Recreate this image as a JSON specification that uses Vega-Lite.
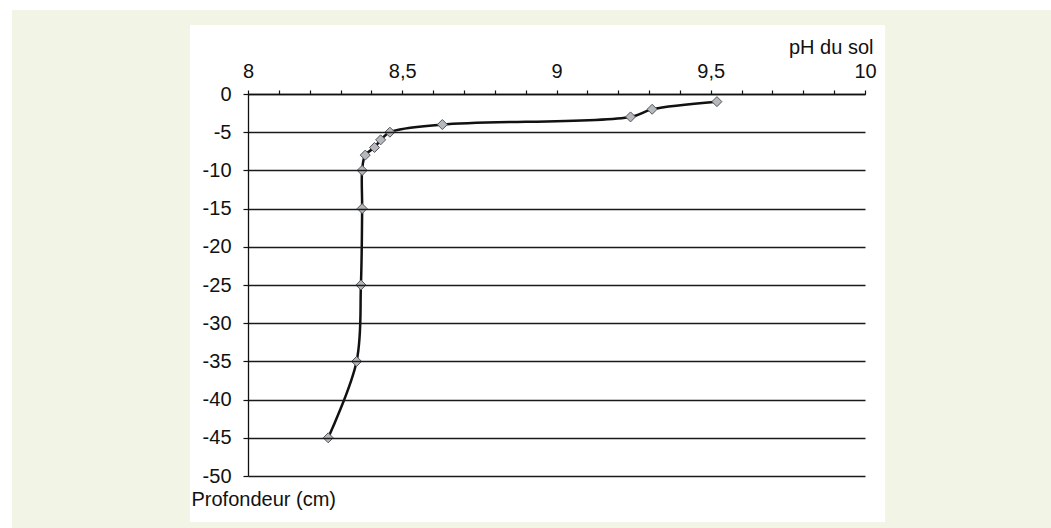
{
  "$schema": "https://vega.github.io/schema/vega-lite/v6.json",
  "autosize": "none",
  "width": 617,
  "height": 382,
  "padding": {"left": 248, "top": 94, "right": 186, "bottom": 52},
  "background": "white",
  "config": {
    "view": {"stroke": null},
    "font": "Liberation Sans",
    "axis": {"labelFont": "Liberation Sans", "titleFont": "Liberation Sans", "labelColor": "#111", "titleColor": "#111"}
  },
  "data": {
    "values": [
      {"ph": 9.52, "depth": -1},
      {"ph": 9.31, "depth": -2},
      {"ph": 9.24, "depth": -3},
      {"ph": 8.63, "depth": -4},
      {"ph": 8.46, "depth": -5},
      {"ph": 8.43, "depth": -6},
      {"ph": 8.41, "depth": -7},
      {"ph": 8.38, "depth": -8},
      {"ph": 8.37, "depth": -10},
      {"ph": 8.37, "depth": -15},
      {"ph": 8.366, "depth": -25},
      {"ph": 8.352, "depth": -35},
      {"ph": 8.26, "depth": -45}
    ]
  },
  "layer": [
    {
      "mark": {"type": "rect", "color": "#f2f5e6", "clip": false},
      "encoding": {
        "x": {
          "datum": 7.235, "type": "quantitative",
          "scale": {"domain": [8, 10], "nice": false, "zero": false},
          "axis": {
            "zindex": 1,
            "orient": "top",
            "title": "pH du sol",
            "values": [8, 8.1, 8.2, 8.3, 8.4, 8.5, 8.6, 8.7, 8.8, 8.9, 9, 9.1, 9.2, 9.3, 9.4, 9.5, 9.6, 9.7, 9.8, 9.9, 10],
            "tickCount": 40,
            "labelExpr": "abs(datum.value*2 - round(datum.value*2)) < 0.001 ? replace(datum.value + '', '.', ',') : ''",
            "labelFontSize": 20,
            "labelPadding": 9,
            "labelOverlap": false,
            "labelFlush": false,
            "tickSize": 4,
            "tickColor": "#111",
            "tickWidth": 1.2,
            "domainColor": "#111",
            "domainWidth": 1.3,
            "grid": false,
            "titleFontSize": 20,
            "titleFontWeight": "normal",
            "titleAnchor": "end",
            "titleAlign": "right",
            "titleBaseline": "alphabetic",
            "titleX": 625,
            "titleY": -41
          }
        },
        "x2": {"datum": 10.61},
        "y": {
          "datum": 10.99, "type": "quantitative",
          "scale": {"domain": [-50, 0], "nice": false, "zero": false},
          "axis": {
            "zindex": 1,
            "title": "Profondeur (cm)",
            "values": [0, -5, -10, -15, -20, -25, -30, -35, -40, -45, -50],
            "tickCount": 30,
            "labelExpr": "datum.value + ''",
            "labelFontSize": 20,
            "labelPadding": 12,
            "labelOverlap": false,
            "labelFlush": false,
            "tickSize": 5,
            "tickColor": "#111",
            "tickWidth": 1.2,
            "domainColor": "#111",
            "domainWidth": 1.3,
            "grid": true,
            "gridColor": "#1a1a1a",
            "gridWidth": 1.3,
            "titleFontSize": 20,
            "titleFontWeight": "normal",
            "titleAngle": 0,
            "titleAnchor": "start",
            "titleAlign": "left",
            "titleBaseline": "alphabetic",
            "titleX": -57,
            "titleY": 411
          }
        },
        "y2": {"datum": -57}
      }
    },
    {
      "mark": {"type": "rect", "color": "white", "clip": false},
      "encoding": {
        "x": {"datum": 7.812, "type": "quantitative"},
        "x2": {"datum": 10.065},
        "y": {"datum": 9.03, "type": "quantitative"},
        "y2": {"datum": -56.02}
      }
    },
    {
      "mark": {"type": "line", "color": "#111", "strokeWidth": 2.5, "interpolate": "catmull-rom", "zindex": 2},
      "encoding": {
        "x": {"field": "ph", "type": "quantitative"},
        "y": {"field": "depth", "type": "quantitative"},
        "order": {"field": "depth", "type": "quantitative"}
      }
    },
    {
      "mark": {"type": "point", "shape": "diamond", "filled": true, "size": 100, "fill": "#b5b9bd", "stroke": "#555", "strokeWidth": 1, "opacity": 1, "zindex": 3},
      "encoding": {
        "x": {"field": "ph", "type": "quantitative"},
        "y": {"field": "depth", "type": "quantitative"}
      }
    }
  ]
}
